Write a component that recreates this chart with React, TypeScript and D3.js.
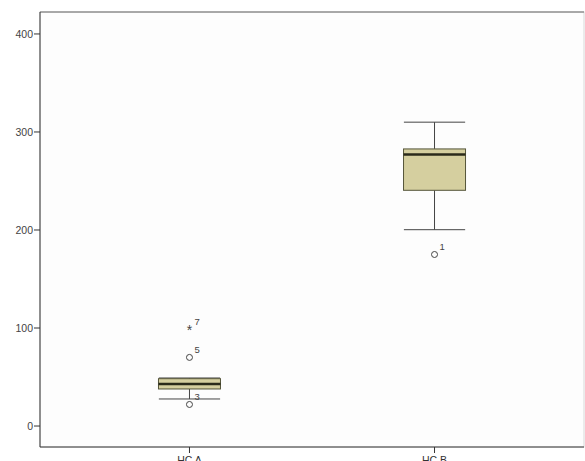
import React from "react";
import { scaleLinear, scalePoint } from "d3";

const categories = ["HC A", "HC B"];
const lowerWhisker = [27.6, 200.3];
const q1 = [37.8, 240.5];
const median = [42.9, 277];
const q3 = [48.3, 282.7];
const upperWhisker = [49, 310];
// outliers: [category index, value, case label, kind]
const outliers: [number, number, string, string][] = [
  [0, 22, "3", "circle"],
  [0, 70, "5", "circle"],
  [0, 99, "7", "star"],
  [1, 175, "1", "circle"],
];
const yTicks = [0, 100, 200, 300, 400];

const App = () => {
  const width = 585;
  const height = 461;
  const margin = { top: 12, right: 1, bottom: 14, left: 40 };
  const innerW = width - margin.left - margin.right;
  const innerH = height - margin.top - margin.bottom;

  const yScale = scaleLinear().domain([-21.4, 422.4]).range([innerH, 0]);
  const xScale = scalePoint().domain(categories).range([0, innerW]).padding(0.61);
  const step = xScale.step();
  const boxW = step * 0.253;
  const capW = step * 0.125;
  const font = "Liberation Sans, Arial, sans-serif";

  return (
    <svg width={width} height={height} style={{ position: "absolute", left: 0, top: 0, background: "#fff" }}>
      <g transform={`translate(${margin.left}, ${margin.top})`}>
        <rect x={0} y={0} width={innerW} height={innerH} fill="#fdfdfd" stroke="#d8d8d8" />
        <line x1={0} x2={innerW} y1={0} y2={0} stroke="#666" />
        <line x1={0} x2={0} y1={0} y2={innerH} stroke="#333" />
        <line x1={0} x2={innerW} y1={innerH} y2={innerH} stroke="#333" />

        {yTicks.map((t, i) => (
          <g key={i} transform={`translate(0, ${yScale(t)})`}>
            <line x1={-6} x2={0} stroke="#333" />
            <text x={-7} dy="0.35em" textAnchor="end" fontSize={10.5} fill="#444" fontFamily={font}>{t}</text>
          </g>
        ))}

        {categories.map((c, i) => {
          const cx = xScale(c) as number;
          return (
            <g key={c}>
              <line x1={cx} x2={cx} y1={innerH} y2={innerH + 6} stroke="#333" />
              <text x={cx} y={innerH + 16.5} textAnchor="middle" fontSize={10.5} fill="#333" fontFamily={font}>{c}</text>
              <line x1={cx} x2={cx} y1={yScale(upperWhisker[i])} y2={yScale(q3[i])} stroke="#444" />
              <line x1={cx} x2={cx} y1={yScale(q1[i])} y2={yScale(lowerWhisker[i])} stroke="#444" />
              <line x1={cx - capW} x2={cx + capW} y1={yScale(upperWhisker[i])} y2={yScale(upperWhisker[i])} stroke="#444" />
              <line x1={cx - capW} x2={cx + capW} y1={yScale(lowerWhisker[i])} y2={yScale(lowerWhisker[i])} stroke="#444" />
              <rect x={cx - boxW / 2} y={yScale(q3[i])} width={boxW} height={yScale(q1[i]) - yScale(q3[i])}
                fill="#d5cf9f" stroke="#55553a" />
              <line x1={cx - boxW / 2} x2={cx + boxW / 2} y1={yScale(median[i])} y2={yScale(median[i])}
                stroke="#2a2a1a" strokeWidth={2.5} />
            </g>
          );
        })}

        {outliers.map(([ci, v, label, kind], i) => {
          const cx = xScale(categories[ci]) as number;
          const cy = yScale(v);
          return (
            <g key={i}>
              {kind === "circle" ? (
                <circle cx={cx} cy={cy} r={3} fill="none" stroke="#444" />
              ) : (
                <text x={cx} y={cy + 6} textAnchor="middle" fontSize={14} fill="#444" fontFamily={font}>*</text>
              )}
              <text x={cx + 5} y={cy - 4} fontSize={9.5} fill="#444" fontFamily={font}>{label}</text>
            </g>
          );
        })}
      </g>
    </svg>
  );
};

export default App;
